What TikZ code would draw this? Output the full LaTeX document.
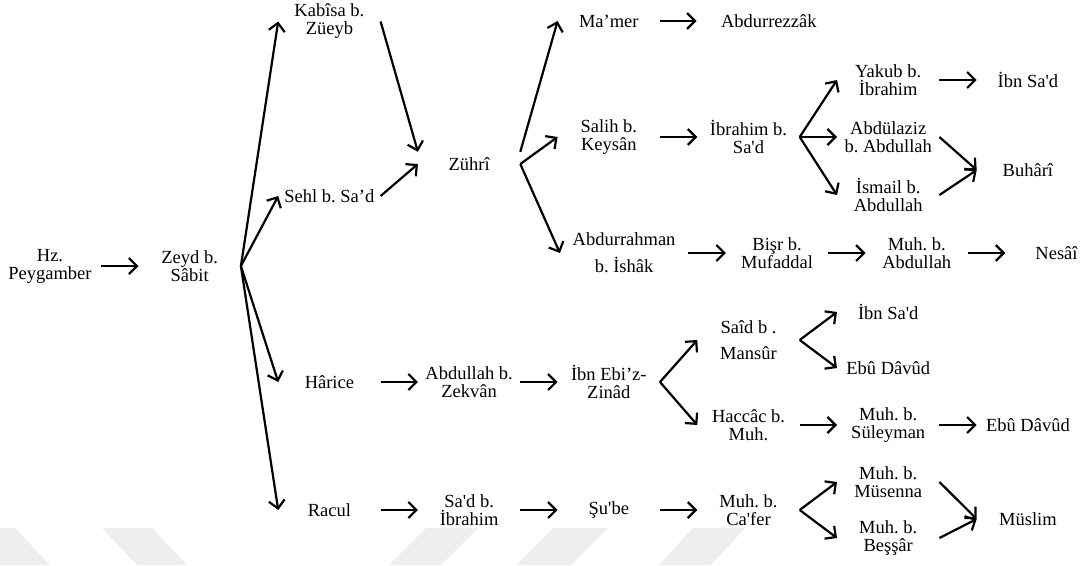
\documentclass[tikz,border=0pt]{standalone}
\usepackage{fontspec}
\newfontfamily\namefont{Liberation Serif}
\usetikzlibrary{arrows.meta,positioning}
\definecolor{markgray}{RGB}{238,238,238}
\frenchspacing

\begin{document}
\begin{tikzpicture}[
    x=1pt, y=-1pt,
    node distance=0pt and 139.7pt, on grid,
    person/.style={align=center, minimum width=102pt, minimum height=24pt, inner sep=0pt, font=\namefont\fontsize{18.5}{18}\selectfont},
    wmark/.style={fill=markgray, draw=none},
    arrow/.style={-{Straight Barb[length=8pt,width=16pt]}, line width=2.2pt}
]
    \useasboundingbox (0,0) rectangle (1089,565);
    \fill[wmark] (0,528) -- (15,528) -- (50,565) -- (0,565) -- cycle;
    \fill[wmark] (102,528) -- (152,528) -- (187,565) -- (137,565) -- cycle;
    \fill[wmark] (426,528) -- (478,528) -- (441,565) -- (389,565) -- cycle;
    \fill[wmark] (553,528) -- (608,528) -- (571,565) -- (516,565) -- cycle;
    \fill[wmark] (693,528) -- (745,528) -- (711,565) -- (659,565) -- cycle;

    \node[person] (hz) at (50,266) {Hz.\\Peygamber};
    \node[person] (zeyd) [right=of hz] {Zeyd b.\\Sâbit};
    \node[person] (kabisa) [above right=244.5pt and 139.7pt of zeyd] {Kabîsa b.\\Züeyb};
    \node[person] (sehl) [above right=70pt and 139.7pt of zeyd] {Sehl b. Sa’d};
    \node[person] (harice) [below right=116pt and 139.7pt of zeyd] {Hârice};
    \node[person] (racul) [below right=244pt and 139.7pt of zeyd] {Racul};
    \node[person] (zuhri) [below right=142.5pt and 139.7pt of kabisa] {Zührî};
    \node[person] (zekvan) [right=of harice] {Abdullah b.\\Zekvân};
    \node[person] (sadibr) [right=of racul] {Sa'd b.\\İbrahim};
    \node[person] (mamer) [above right=143pt and 139.7pt of zuhri] {Ma’mer};
    \node[person] (salih) [above right=27pt and 139.7pt of zuhri] {Salih b.\\Keysân};
    \node[person, minimum width=128pt] (ishak) [below right=89pt and 155pt of zuhri] {Abdurrahman\\[9pt]b. İshâk};
    \node[person] (zinad) [right=of zekvan] {İbn Ebi’z-\\Zinâd};
    \node[person] (sube) [right=of sadibr] {Şu'be};
    \node[person, minimum width=144pt] (rezzak) [right=160pt of mamer] {Abdurrezzâk};
    \node[person] (ibrahim) [right=of salih] {İbrahim b.\\Sa'd};
    \node[person] (bisr) [right=153pt of ishak] {Bişr b.\\Mufaddal};
    \node[person] (said) [above right=42pt and 139.7pt of zinad] {Saîd b .\\[8pt]Mansûr};
    \node[person] (haccac) [below right=43pt and 139.7pt of zinad] {Haccâc b.\\Muh.};
    \node[person] (cafer) [right=of sube] {Muh. b.\\Ca'fer};
    \node[person] (yakub) [above right=57pt and 139.7pt of ibrahim] {Yakub b.\\İbrahim};
    \node[person] (abdulaziz) [right=of ibrahim] {Abdülaziz\\b. Abdullah};
    \node[person] (ismail) [below right=58pt and 139.7pt of ibrahim] {İsmail b.\\Abdullah};
    \node[person] (muhabd) [right=of bisr] {Muh. b.\\Abdullah};
    \node[person] (ibnsadb) [above right=28pt and 139.7pt of said] {İbn Sa'd};
    \node[person] (davuda) [below right=28pt and 139.7pt of said] {Ebû Dâvûd};
    \node[person] (suleyman) [right=of haccac] {Muh. b.\\Süleyman};
    \node[person] (musenna) [above right=28pt and 139.7pt of cafer] {Muh. b.\\Müsenna};
    \node[person] (bessar) [below right=28pt and 139.7pt of cafer] {Muh. b.\\Beşşâr};
    \node[person] (ibnsada) [right=of yakub] {İbn Sa'd};
    \node[person] (buhari) [below right=33pt and 139.7pt of abdulaziz] {Buhârî};
    \node[person] (nesai) [right=of muhabd] {Nesâî};
    \node[person] (davudb) [right=of suleyman] {Ebû Dâvûd};
    \node[person] (muslim) [below right=37pt and 139.7pt of musenna] {Müslim};

    \draw[arrow] (hz) -- (zeyd);
    \draw[arrow] (zeyd.east) -- (kabisa.west);
    \draw[arrow] (zeyd.east) -- (sehl.west);
    \draw[arrow] (zeyd.east) -- (harice.west);
    \draw[arrow] (zeyd.east) -- (racul.west);
    \draw[arrow] (kabisa.east) -- (zuhri.north west);
    \draw[arrow] (sehl.east) -- (zuhri.west);
    \draw[arrow] (zuhri.north east) -- (mamer.west);
    \draw[arrow] (zuhri.east) -- (salih.west);
    \draw[arrow] (zuhri.east) -- (ishak.west);
    \draw[arrow] (mamer) -- (rezzak);
    \draw[arrow] (salih) -- (ibrahim);
    \draw[arrow] (ibrahim.east) -- (yakub.west);
    \draw[arrow] (ibrahim.east) -- (abdulaziz.west);
    \draw[arrow] (ibrahim.east) -- (ismail.west);
    \draw[arrow] (yakub) -- (ibnsada);
    \draw[arrow] (abdulaziz.east) -- (buhari.west);
    \draw[arrow] (ismail.east) -- (buhari.west);
    \draw[arrow] (ishak) -- (bisr);
    \draw[arrow] (bisr) -- (muhabd);
    \draw[arrow] (muhabd) -- (nesai);
    \draw[arrow] (harice) -- (zekvan);
    \draw[arrow] (zekvan) -- (zinad);
    \draw[arrow] (zinad.east) -- (said.west);
    \draw[arrow] (zinad.east) -- (haccac.west);
    \draw[arrow] (said.east) -- (ibnsadb.west);
    \draw[arrow] (said.east) -- (davuda.west);
    \draw[arrow] (haccac) -- (suleyman);
    \draw[arrow] (suleyman) -- (davudb);
    \draw[arrow] (racul) -- (sadibr);
    \draw[arrow] (sadibr) -- (sube);
    \draw[arrow] (sube) -- (cafer);
    \draw[arrow] (cafer.east) -- (musenna.west);
    \draw[arrow] (cafer.east) -- (bessar.west);
    \draw[arrow] (musenna.east) -- (muslim.west);
    \draw[arrow] (bessar.east) -- (muslim.west);
\end{tikzpicture}
\end{document}
